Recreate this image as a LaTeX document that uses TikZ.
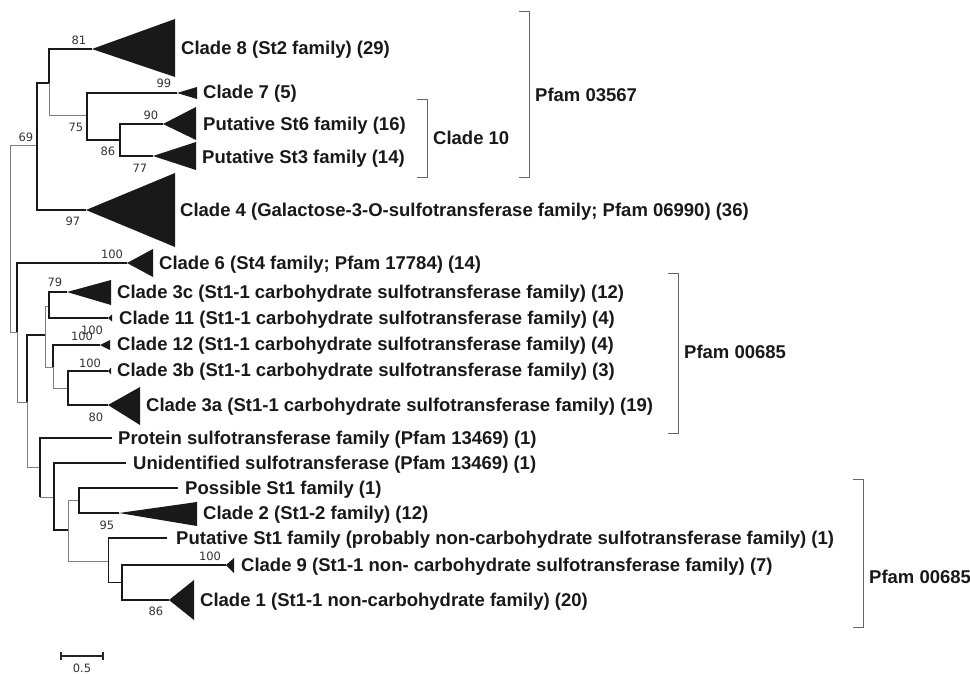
\documentclass[tikz,border=0pt]{standalone}
\usepackage{fontspec}
\setmainfont{Liberation Sans}
\newfontfamily\numfont{DejaVu Sans}
\begin{document}
\begin{tikzpicture}[x=1pt,y=-1pt,
  thk/.style={line width=2.2pt, draw=black!90},
  thn/.style={line width=1pt, draw=black!50},
  thb/.style={line width=1pt, draw=black!90},
  tri/.style={fill=black!90},
  lab/.style={anchor=base west, inner sep=0, font=\bfseries\fontsize{18.5}{20}\selectfont, text=black!90},
  bs/.style={inner sep=0, font=\numfont\fontsize{11.5}{12}\selectfont, text=black!80},
  brk/.style={line width=1pt, draw=black!60}]
\useasboundingbox (0,0) rectangle (970,674);
% internal nodes
\coordinate (R) at (10,239);
\coordinate (A) at (37,146);
\coordinate (C) at (49,83);
\coordinate (D) at (87,116);
\coordinate (E) at (120,140);
\coordinate (B) at (17,332);
\coordinate (F) at (27,402);
\coordinate (G) at (45,335);
\coordinate (I) at (49,306);
\coordinate (J) at (53,367);
\coordinate (K) at (68,388);
\coordinate (H) at (40,467);
\coordinate (L) at (54,497);
\coordinate (M) at (68,530);
\coordinate (N) at (79,500);
\coordinate (O) at (108,561);
\coordinate (P) at (122,582);
% tips
\coordinate (t8) at (92,49);
\coordinate (t7) at (177,93);
\coordinate (tS6) at (163,124);
\coordinate (tS3) at (153,156);
\coordinate (t4) at (86,210);
\coordinate (t6) at (127,263);
\coordinate (t3c) at (67,292);
\coordinate (t11) at (108,318);
\coordinate (t12) at (100,345);
\coordinate (t3b) at (108,371);
\coordinate (t3a) at (108,405);
\coordinate (tPr) at (112,438);
\coordinate (tUn) at (126,463);
\coordinate (tPo) at (178,488);
\coordinate (t2) at (119,513);
\coordinate (tPu) at (167,538);
\coordinate (t9) at (226,565);
\coordinate (t1) at (169,600);
% edges
\draw[thn] (R) |- (A);
\draw[thn] (R) |- (B);
\draw[thk] (A) |- (C);
\draw[thk] (A) |- (t4);
\draw[thk] (C) |- (t8);
\draw[thn] (C) |- (D);
\draw[thk] (D) |- (t7);
\draw[thk] (D) |- (E);
\draw[thk] (E) |- (tS6);
\draw[thk] (E) |- (tS3);
\draw[thk] (B) |- (t6);
\draw[thn] (B) |- (F);
\draw[thk] (F) |- (G);
\draw[thn] (F) |- (H);
\draw[thn] (G) |- (I);
\draw[thn] (G) |- (J);
\draw[thk] (I) |- (t3c);
\draw[thk] (I) |- (t11);
\draw[thk] (J) |- (t12);
\draw[thn] (J) |- (K);
\draw[thk] (K) |- (t3b);
\draw[thk] (K) |- (t3a);
\draw[thk] (H) |- (tPr);
\draw[thk] (H) -- (H |- L);
\draw[thn] (H |- L) -- (L);
\draw[thk] (L) |- (tUn);
\draw[thk] (L) |- (M);
\draw[thn] (M) |- (N);
\draw[thn] (M) |- (O);
\draw[thk] (N) |- (tPo);
\draw[thk] (N) |- (t2);
\draw[thb] (O) -- (O |- tPu);
\draw[thk] (O |- tPu) -- (tPu);
\draw[thb] (O) |- (P);
\draw[thk] (P) |- (t9);
\draw[thk] (P) |- (t1);
% collapsed clades
\fill[tri] (t8) -- (175,19) -- (175,77) -- cycle;
\fill[tri] (t7) -- (197,87) -- (197,99) -- cycle;
\fill[tri] (tS6) -- (196,107) -- (196,140) -- cycle;
\fill[tri] (tS3) -- (196,142) -- (196,170) -- cycle;
\fill[tri] (t4) -- (175,173) -- (175,247) -- cycle;
\fill[tri] (t6) -- (153,249) -- (153,277) -- cycle;
\fill[tri] (t3c) -- (111,280) -- (111,305) -- cycle;
\fill[tri] (t11) -- (112,314.5) -- (112,321.5) -- cycle;
\fill[tri] (t12) -- (110,340) -- (110,350) -- cycle;
\fill[tri] (t3b) -- (111,367.5) -- (111,374.5) -- cycle;
\fill[tri] (t3a) -- (140,387) -- (140,425) -- cycle;
\fill[tri] (t2) -- (197,502) -- (197,526) -- cycle;
\fill[tri] (t9) -- (234,558) -- (234,573) -- cycle;
\fill[tri] (t1) -- (194,580) -- (194,620) -- cycle;
% labels
\node[lab] (l8) at (181,54.5) {Clade 8 (St2 family) (29)};
\node[lab] (l7) at (203,98.5) {Clade 7 (5)};
\node[lab] (lS6) at (203,130.5) {Putative St6 family (16)};
\node[lab] (lS3) at (202,163.5) {Putative St3 family (14)};
\node[lab] (l4) at (180,216.5) {Clade 4 (Galactose-3-O-sulfotransferase family; Pfam 06990) (36)};
\node[lab] (l6) at (159,269.5) {Clade 6 (St4 family; Pfam 17784) (14)};
\node[lab] (l3c) at (117,298.5) {Clade 3c (St1-1 carbohydrate sulfotransferase family) (12)};
\node[lab] (l11) at (119,324.5) {Clade 11 (St1-1 carbohydrate sulfotransferase family) (4)};
\node[lab] (l12) at (117,350.5) {Clade 12 (St1-1 carbohydrate sulfotransferase family) (4)};
\node[lab] (l3b) at (117,376.5) {Clade 3b (St1-1 carbohydrate sulfotransferase family) (3)};
\node[lab] (l3a) at (146,411.5) {Clade 3a (St1-1 carbohydrate sulfotransferase family) (19)};
\node[lab] (lPr) at (118,444.5) {Protein sulfotransferase family (Pfam 13469) (1)};
\node[lab] (lUn) at (133,469.5) {Unidentified sulfotransferase (Pfam 13469) (1)};
\node[lab] (lPo) at (185,494.5) {Possible St1 family (1)};
\node[lab] (l2) at (203,519.5) {Clade 2 (St1-2 family) (12)};
\node[lab] (lPu) at (176,544.5) {Putative St1 family (probably non-carbohydrate sulfotransferase family) (1)};
\node[lab] (l9) at (241,571.5) {Clade 9 (St1-1 non- carbohydrate sulfotransferase family) (7)};
\node[lab] (l1) at (200,606.5) {Clade 1 (St1-1 non-carbohydrate family) (20)};
% bootstrap values
\node[bs] (b69) at (26,137) {69};
\node[bs] (b81) at (79,40) {81};
\node[bs] (b99) at (164,83) {99};
\node[bs] (b75) at (76,127) {75};
\node[bs] (b90) at (151,115) {90};
\node[bs] (b86a) at (108,151) {86};
\node[bs] (b77) at (140,168) {77};
\node[bs] (b97) at (73,221) {97};
\node[bs] (b100a) at (112,254) {100};
\node[bs] (b79) at (55,282) {79};
\node[bs] (b100b) at (82,336) {100};
\node[bs] (b100c) at (92,330) {100};
\node[bs] (b100d) at (90,363) {100};
\node[bs] (b80) at (96,417) {80};
\node[bs] (b95) at (107,525) {95};
\node[bs] (b100e) at (210,556) {100};
\node[bs] (b86b) at (156,611) {86};
% brackets
\draw[brk] (519,12) -- (529,12) -- (529,178) -- (519,178);
\node[lab] (pf1) at (535,101.5) {Pfam 03567};
\draw[brk] (417,100) -- (427,100) -- (427,178) -- (417,178);
\node[lab] (c10) at (433,144.5) {Clade 10};
\draw[brk] (668,273) -- (678,273) -- (678,433) -- (668,433);
\node[lab] (pf2) at (684,358.5) {Pfam 00685};
\draw[brk] (853,479) -- (863,479) -- (863,627) -- (853,627);
\node[lab] (pf3) at (869,583.5) {Pfam 00685};
% scale bar
\coordinate (s0) at (61,656);
\coordinate (s1) at (103,656);
\draw[line width=1.5pt, draw=black!85] (s0) -- (s1);
\draw[line width=1.5pt, draw=black!85] ([yshift=-4pt]s0) -- ([yshift=4pt]s0);
\draw[line width=1.5pt, draw=black!85] ([yshift=-4pt]s1) -- ([yshift=4pt]s1);
\node[bs] (sl) at (82,668) {0.5};
\end{tikzpicture}
\end{document}
